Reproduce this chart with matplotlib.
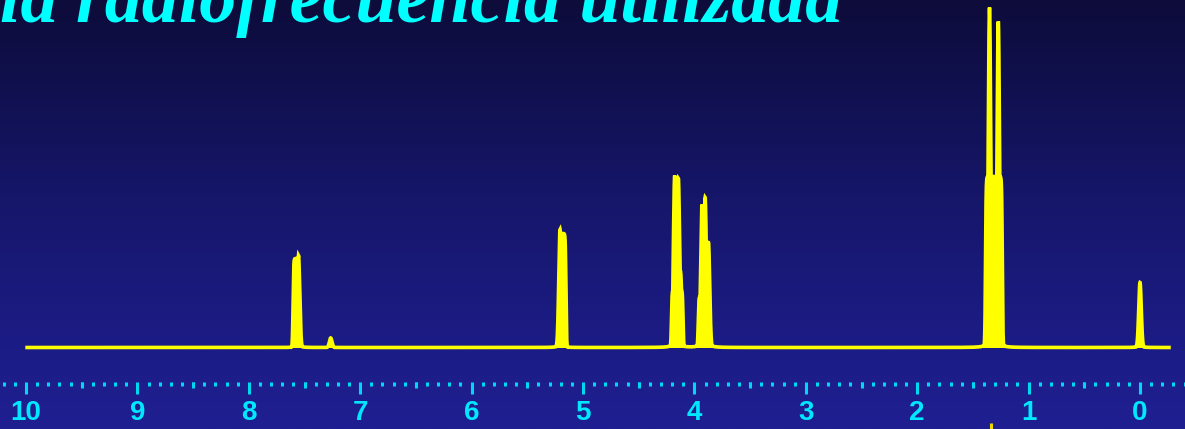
import numpy as np
import matplotlib
matplotlib.use("Agg")
import matplotlib.pyplot as plt
from matplotlib.ticker import MultipleLocator, NullFormatter
from matplotlib.colors import LinearSegmentedColormap

# ---------------- data ----------------
title_text = "la radiofrecuencia utilizada"

# multiplet envelopes (unresolved blocks): left ppm, right ppm, height
plateau_left = [7.603, 5.216, 4.206, 4.195, 3.966, 1.387]
plateau_right = [7.546, 5.153, 4.102, 4.114, 3.859, 1.236]
plateau_height = [89, 114, 58, 78, 51, 171]

# resolved line tops: ppm and height
spike_ppm = [7.554, 7.265, 5.206, 4.177, 4.144, 3.932, 3.904, 3.874,
             1.351, 1.272, 0.0]
spike_height = [92, 9.5, 118, 172, 169, 143, 150, 105,
                340, 326, 65]

spectrum_start = 9.99       # ppm where the trace begins (left)
spectrum_end = -0.26        # ppm where the trace ends (right)

major_ticks = [10, 9, 8, 7, 6, 5, 4, 3, 2, 1, 0]
tick_labels = ["10", "9", "8", "7", "6", "5", "4", "3", "2", "1", "0"]
half_ticks = [9.5, 8.5, 7.5, 6.5, 5.5, 4.5, 3.5, 2.5, 1.5, 0.5]

integral_ppm = 1.342

# line-shape parameters
spike_sigma = 0.0115        # ppm
edge_width = 0.0028         # ppm
foot_hwhm = 0.027           # ppm
foot_frac = 0.02

# ---------------- figure ----------------
W, H = 1185, 429
fig = plt.figure(figsize=(W / 100, H / 100), dpi=100)

# background gradient
bg = fig.add_axes([0, 0, 1, 1], zorder=0)
bg.set_axis_off()
cmap = LinearSegmentedColormap.from_list(
    "bg", [(0.0, (13/255, 12/255, 58/255)),
           (0.25, (17/255, 17/255, 84/255)),
           (0.5, (23/255, 23/255, 110/255)),
           (0.75, (27/255, 27/255, 130/255)),
           (1.0, (31/255, 31/255, 146/255))])
grad = np.linspace(0, 1, 256).reshape(-1, 1)
bg.imshow(grad, aspect="auto", cmap=cmap, extent=[0, 1, 1, 0])
bg.set_xlim(0, 1)
bg.set_ylim(1, 0)

# x mapping: ppm 10 at px 27, ppm 0 at px 1140
px_per_ppm = 111.4
x_left = 1140 / px_per_ppm
x_right = (1140 - W) / px_per_ppm
base_px = 347.5

ax = fig.add_axes([0, 0, 1, 1], zorder=2)
ax.patch.set_alpha(0)
ax.set_axis_off()
ax.set_xlim(x_left, x_right)
ax.set_ylim(-(H - base_px), base_px)

ppm_grid = np.linspace(spectrum_start, spectrum_end, 24001)
env = np.zeros_like(ppm_grid)
for a, b, h in zip(plateau_left, plateau_right, plateau_height):
    box = h / (1 + np.exp((ppm_grid - a) / edge_width)) / (1 + np.exp((b - ppm_grid) / edge_width))
    env = np.maximum(env, box)
foot = np.zeros_like(ppm_grid)
for p, h in zip(spike_ppm, spike_height):
    env = np.maximum(env, h * np.exp(-0.5 * ((ppm_grid - p) / spike_sigma) ** 2))
    foot += foot_frac * h / (1 + ((ppm_grid - p) / foot_hwhm) ** 2)
spec = np.maximum(env, foot)

yellow = "#ffff00"
ax.fill_between(ppm_grid, 0, spec, color=yellow, lw=0)
ax.plot(ppm_grid, spec, color=yellow, lw=2.6, solid_joinstyle="miter")

# tiny integral trace remnant at the bottom
ax.vlines(integral_ppm, -(H - base_px), -(423 - base_px), color="#e8d800", lw=2.2)

# ---------------- scale (ticks) ----------------
tick_color = "#00d8f0"
label_color = "#00e8ff"
ax_t = fig.add_axes([0, (H - 382) / H, 1, 0.0001], zorder=3)
ax_t.patch.set_alpha(0)
ax_t.set_xlim(x_left, x_right)
for s in ax_t.spines.values():
    s.set_visible(False)
ax_t.set_yticks([])
ax_t.set_xticks(major_ticks)
ax_t.set_xticklabels(tick_labels)
ax_t.xaxis.set_minor_locator(MultipleLocator(0.1))
ax_t.tick_params(axis="x", which="major", direction="out", length=8.4, width=2.2,
                 color=tick_color, pad=4.5, labelsize=20, labelcolor=label_color)
ax_t.tick_params(axis="x", which="minor", direction="out", length=3.0, width=2.2,
                 color=tick_color)
for lab in ax_t.get_xticklabels():
    lab.set_fontfamily("Liberation Sans")
    lab.set_fontweight("bold")

sec = ax_t.secondary_xaxis("bottom")
sec.set_xticks(half_ticks)
sec.xaxis.set_major_formatter(NullFormatter())
sec.tick_params(axis="x", which="major", direction="out", length=4.6, width=2.2,
                color=tick_color)
for s in sec.spines.values():
    s.set_visible(False)

# ---------------- title ----------------
fig.canvas.draw()
r = fig.canvas.get_renderer()
tkw = dict(family="Liberation Serif", weight="bold", style="italic")
probe = fig.text(0, 0, "a radiofrecuencia utilizada", fontsize=40, **tkw)
w = probe.get_window_extent(r).width
probe.remove()
fs = 0.985 * 40 * (842 - 8) / w
fig.text(842 / W, (H - 22) / H, title_text, ha="right", va="baseline",
         fontsize=fs, color="#00ffff", zorder=5, **tkw)

fig.savefig("out.png", dpi=100)
